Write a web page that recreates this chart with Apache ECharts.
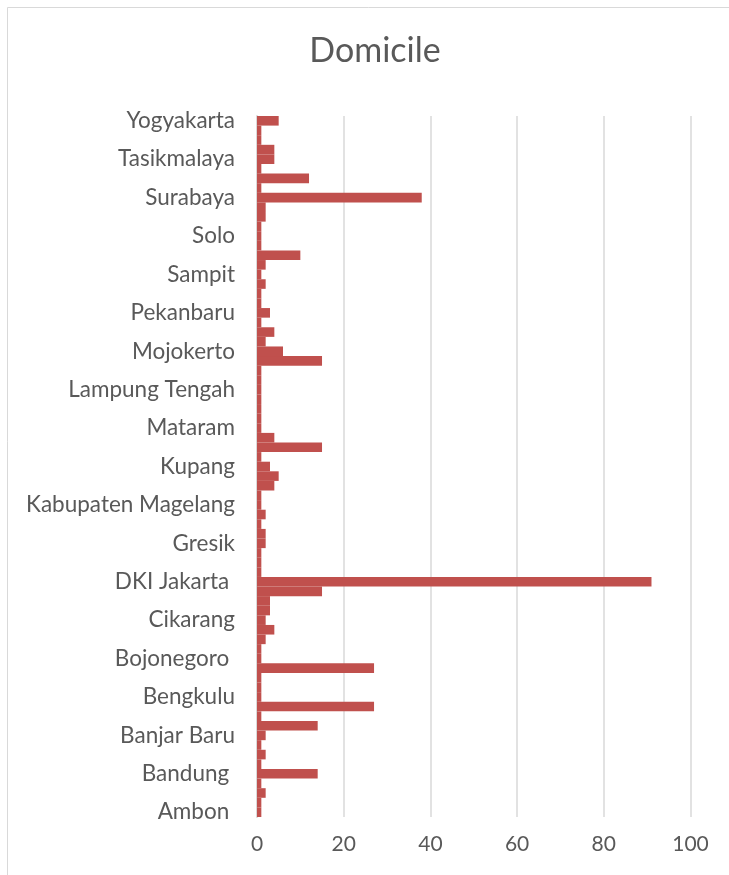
<!DOCTYPE html>
<html>
<head>
<meta charset="utf-8">
<script src="https://cdn.jsdelivr.net/npm/echarts@6/dist/echarts.min.js"></script>
<style>
  html, body { margin: 0; padding: 0; background: #ffffff; }
  #chart { width: 729px; height: 875px; }
</style>
</head>
<body>
<div id="chart"></div>
<script>
// Domicile of respondents, listed bottom-to-top as on the axis
const cities = [
  'Ambon ', 'Badung', 'Balikpapan', 'Banda Aceh',
  'Bandung ', 'Bandung Barat', 'Bangkalan', 'Banjar',
  'Banjar Baru', 'Banyuwangi', 'Batam', 'Bekasi',
  'Bengkulu', 'Bima', 'Blitar', 'Bogor',
  'Bojonegoro ', 'Bontang', 'Cianjur', 'Cibinong',
  'Cikarang', 'Cilegon', 'Cirebon', 'Depok',
  'DKI Jakarta ', 'Garut', 'Gorontalo', 'Gowa',
  'Gresik', 'Jambi', 'Jayapura', 'Jember',
  'Kabupaten Magelang', 'Kediri', 'Kendari', 'Klaten',
  'Kupang', 'Madiun', 'Magelang', 'Makassar',
  'Mataram', 'Medan', 'Lamongan', 'Lampung',
  'Lampung Tengah', 'Madura', 'Majalengka', 'Malang',
  'Mojokerto', 'Nganjuk', 'Padang', 'Palembang',
  'Pekanbaru', 'Pontianak', 'Purwokerto', 'Samarinda',
  'Sampit', 'Semarang', 'Sidoarjo', 'Sleman',
  'Solo', 'Sragen', 'Sukabumi', 'Sumenep',
  'Surabaya', 'Tangerang', 'Tangerang Selatan', 'Tarakan',
  'Tasikmalaya', 'Tegal', 'Ternate', 'Tuban',
  'Yogyakarta'
];

const counts = [
  1, 1, 2, 1,
  14, 1, 2, 1,
  2, 14, 1, 27,
  1, 1, 1, 27,
  1, 1, 2, 4,
  2, 3, 3, 15,
  91, 1, 1, 1,
  2, 2, 1, 2,
  1, 1, 4, 5,
  3, 1, 15, 4,
  1, 1, 1, 1,
  1, 1, 1, 15,
  6, 2, 4, 1,
  3, 1, 1, 2,
  1, 2, 10, 1,
  1, 1, 2, 2,
  38, 1, 12, 1,
  4, 4, 1, 1,
  5
];

const xTicks = { min: 0, max: 100, step: 20 };

const textColor = '#595959';
const gridColor = '#d9d9d9';
const barColor = '#c0504d';
const fontFamily = 'Lato, "Open Sans", sans-serif';

const chart = echarts.init(document.getElementById('chart'), null, { renderer: 'canvas' });

chart.setOption({
  animation: false,
  backgroundColor: '#ffffff',
  graphic: [{
    type: 'rect',
    shape: { x: 7.5, y: 7.5, width: 800, height: 900 },
    style: { fill: 'none', stroke: gridColor, lineWidth: 1 },
    silent: true
  }, {
    // chart title, centred on the chart frame
    type: 'text',
    x: 375,
    y: 51,
    style: {
      text: 'Domicile',
      fill: textColor,
      font: '34px ' + fontFamily,
      textAlign: 'center',
      textVerticalAlign: 'middle'
    },
    silent: true
  }],
  grid: {
    left: 257,
    right: 38.5,
    top: 116,
    bottom: 58,
    containLabel: false
  },
  xAxis: {
    type: 'value',
    min: xTicks.min,
    max: xTicks.max,
    interval: xTicks.step,
    axisLine: { show: false },
    axisTick: { show: false },
    axisLabel: {
      color: textColor,
      fontFamily: fontFamily,
      fontSize: 21,
      margin: 17
    },
    splitLine: {
      show: true,
      lineStyle: { color: gridColor, width: 1.5 }
    }
  },
  yAxis: {
    type: 'category',
    data: cities,
    axisLine: {
      show: true,
      lineStyle: { color: gridColor, width: 2 }
    },
    axisTick: { show: false },
    axisLabel: {
      interval: 3,
      color: textColor,
      fontFamily: fontFamily,
      fontSize: 22.5,
      margin: 22
    },
    splitLine: { show: false }
  },
  series: [{
    type: 'bar',
    data: counts,
    barCategoryGap: '0%',
    itemStyle: { color: barColor }
  }]
});
</script>
</body>
</html>
